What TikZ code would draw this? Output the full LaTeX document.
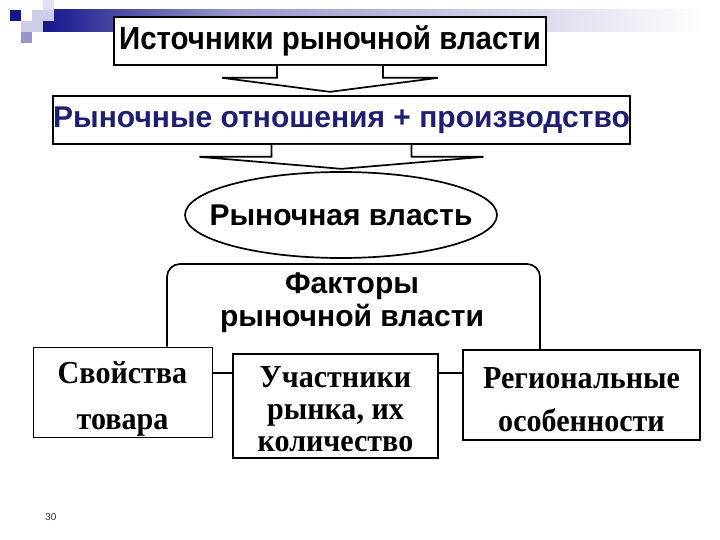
\documentclass[tikz,border=0pt]{standalone}
\usepackage{fontspec}
\setmainfont{Liberation Serif}[FakeStretch=0.94]
\newfontfamily\sansf{Liberation Sans}
\newfontfamily\sansn{Liberation Sans}[FakeStretch=0.92]
\usetikzlibrary{calc,shapes.geometric,positioning}
\definecolor{navy}{RGB}{22,22,140}
\definecolor{textnavy}{RGB}{30,30,115}
\definecolor{lav}{RGB}{205,205,232}
\definecolor{lavd}{RGB}{150,150,205}

\begin{document}
\begin{tikzpicture}[x=1pt,y=-1pt,inner sep=0pt,line width=1.7pt,
  box/.style={draw,fill=white,align=center},
  hd/.style={font=\sansf\bfseries\fontsize{30}{33}\selectfont},
  tb/.style={align=center,font=\bfseries\fontsize{32}{32}\selectfont}]
\useasboundingbox (0,0) rectangle (720,540);

% slide decoration
\shade[left color=navy,right color=navy!45!white,draw=none] (43,10) rectangle (230,32);
\shade[left color=navy!45!white,right color=white,draw=none] (230,10) rectangle (705,32);
\fill[lav] (32,10) rectangle (54,21);
\fill[lav!60!white] (43,0) rectangle (54,10);
\fill[lav] (21,21) rectangle (43,32);
\fill[lavd] (21,32) rectangle (32,43);
\fill[navy] (10,10) rectangle (21,21);

\node[box,hd,font=\sansn\bfseries\fontsize{32}{34}\selectfont,minimum width=432pt,minimum height=48pt] (src) at (330,41) {Источники рыночной власти};
\node[box,hd,text=textnavy,minimum width=563pt,minimum height=48pt] (rel) at (341.5,120) {Рыночные отношения + производство};

\draw[fill=white] ($(src.south)+(-53,0)$) -- ++(0,12) -- ++(-55,0) -- ($(src.south)+(0,26)$)
  -- ($(src.south)+(108,12)$) -- ++(-55,0) -- ++(0,-12);
\draw[fill=white] ($(rel.south)+(-70,0)$) -- ++(0,12) -- ++(-72,0) -- ($(rel.south)+(0,24)$)
  -- ($(rel.south)+(142,12)$) -- ++(-72,0) -- ++(0,-12);

\node[hd] (pow) at (341,215) {Рыночная власть};
\draw (pow.center) ellipse [x radius=156, y radius=43];

% bottom boxes
\node[box,line width=1pt,minimum width=179pt,minimum height=90pt] (prop) at (122.5,392) {};
\node[box,minimum width=205pt,minimum height=104pt] (part) at (335.5,406) {};
\node[box,minimum width=237pt,minimum height=90pt] (reg) at (581.5,395) {};
\node[tb,font=\bfseries\fontsize{32}{46}\selectfont] (propt) at ($(prop)+(0,6.5)$) {Свойства\\товара};
\node[tb] (partt) at ($(part)+(0,3)$) {Участники\\рынка, их\\количество};
\node[tb,font=\bfseries\fontsize{32}{43}\selectfont] (regt) at ($(reg)+(0,5)$) {Региональные\\особенности};

\node[align=center,hd] (fac) at (352,303) {Факторы\\рыночной власти};
\draw[rounded corners=13pt] (167,0 |- prop.north) -- (167,264) -- (540,264) -- (540,0 |- reg.north);

\draw (prop.east |- 0,373) -- (part.west |- 0,373);
\draw (part.east |- 0,373) -- (reg.west |- 0,373);

\node[font=\sansf\fontsize{10}{12}\selectfont,text=black!80] (pg) at (51,517) {30};
\end{tikzpicture}
\end{document}
